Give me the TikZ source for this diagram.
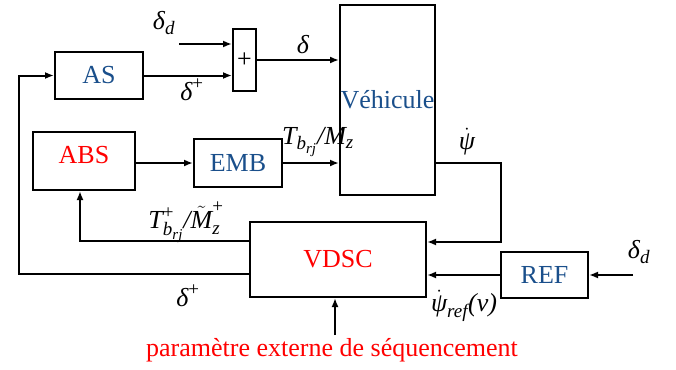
\documentclass[tikz,border=0pt]{standalone}
\usepackage{amsmath}
\usepackage{fontspec}
\setmainfont{Liberation Serif}
\usetikzlibrary{arrows.meta}
\DeclareMathSizes{26}{26}{19}{15}
\definecolor{myblue}{RGB}{26,79,139}
\definecolor{myred}{RGB}{255,0,0}
\newcommand\tv[1]{\text{\itshape #1}}
\newcommand\tp{\text{+}}
\tikzset{
 blk/.style={draw, line width=2pt, inner sep=0pt, font=\fontsize{26}{30}\selectfont},
 arr/.style={line width=2pt, -{Latex[length=9pt,width=7pt]}},
 lbl/.style={inner sep=0pt, font=\fontsize{26}{30}\selectfont},
}
\begin{document}
\begin{tikzpicture}[x=1pt,y=-1pt]
\useasboundingbox (0,0) rectangle (676,369);
% blocks
\node[blk, minimum width=88pt, minimum height=47pt, text=myblue] (AS) at (99,75.5) {AS};
\node[blk, minimum width=23pt, minimum height=62pt] (sum) at (244.5,60) {+};
\node[blk, minimum width=95pt, minimum height=190pt, text=myblue] (veh) at (387.5,100) {Véhicule};
\node[blk, minimum width=102pt, minimum height=58pt, text depth=12pt, text=myred] (ABS) at (84,161) {ABS};
\node[blk, minimum width=88pt, minimum height=48pt, text=myblue] (EMB) at (238,163) {EMB};
\node[blk, minimum width=176pt, minimum height=75pt, text=myred] (VDSC) at (338,259.5) {VDSC};
\node[blk, minimum width=87pt, minimum height=46pt, text=myblue] (REF) at (544.5,275) {REF};
% coordinates
\coordinate (dd) at (179,44);
\coordinate (cR) at (501,242);
\coordinate (dd2) at (633,275);
\coordinate (cL) at (80,241);
\coordinate (cLL) at (19,274);
\coordinate (pp) at (335,335);
% connectors
\draw[arr] (dd) -- (dd -| sum.west);
\draw[arr] (AS.east) -- (AS.east -| sum.west);
\draw[arr] (sum.east) -- (sum.east -| veh.west);
\draw[arr] (ABS.east |- EMB.west) -- (EMB.west);
\draw[arr] (EMB.east) -- (EMB.east -| veh.west);
\draw[arr] (veh.east |- EMB.east) -| (cR) -- (cR -| VDSC.east);
\draw[arr] (REF.west) -- (REF.west -| VDSC.east);
\draw[arr] (dd2) -- (REF.east);
\draw[arr] (VDSC.west |- cL) -- (cL) -- (cL |- ABS.south);
\draw[arr] (VDSC.west |- cLL) -- (cLL) |- (AS.west);
\draw[arr] (pp) -- (pp |- VDSC.south);
% labels
\node[lbl] (l1) at (164,23) {$\tv{δ}_{\tv{d}}$};
\node[lbl] (l2) at (303,45) {$\tv{δ}$};
\node[lbl] (l3) at (192,90) {$\tv{δ}^{\tp}$};
\node[lbl] (l4) at (318,142) {$\tv{T}_{\tv{b}_{\tv{rj}}}\tv{/M}_{\tv{z}}$};
\node[lbl] (l5) at (467,142) {$\dot{\tv{ψ}}$};
\node[lbl] (l6) at (186,222) {$\tv{T}^{\tp}_{\tv{b}_{\tv{rj}}}\tv{/}\tilde{\tv{M}}^{\tp}_{\tv{z}}$};
\node[lbl] (l7) at (188,296) {$\tv{δ}^{\tp}$};
\node[lbl] (l8) at (464,306) {$\dot{\tv{ψ}}_{\tv{ref}}\tv{(v)}$};
\node[lbl] (l9) at (639,252) {$\tv{δ}_{\tv{d}}$};
\node[lbl, text=myred] (l10) at (332,350) {paramètre externe de séquencement};
\end{tikzpicture}
\end{document}
